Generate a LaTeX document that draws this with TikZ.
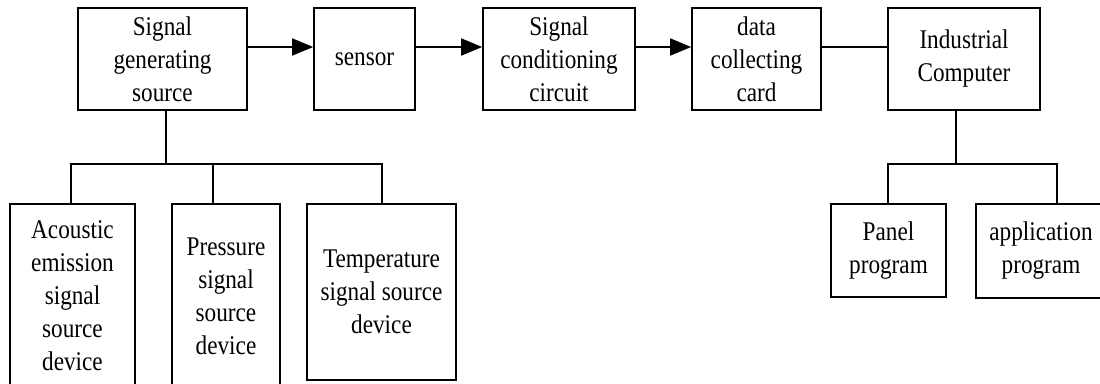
\documentclass[tikz,border=0pt]{standalone}
\usepackage{fontspec}
\setmainfont{Liberation Serif}[FakeStretch=0.86]
\usetikzlibrary{arrows.meta}
\begin{document}
\begin{tikzpicture}[x=1pt,y=-1pt,
  box/.style={draw,line width=1.6pt,inner sep=0pt,align=center,
    font=\fontsize{27}{33}\selectfont},
  link/.style={line width=1.6pt},
  flow/.style={link,-{Triangle[length=21pt,width=17pt]}}]
\useasboundingbox (0,0) rectangle (1100,383);
\clip (0,0) rectangle (1100,383);

% main signal chain
\node[box,minimum width=169pt,minimum height=102pt] (src) at (162.5,59) {Signal\\generating\\source};
\node[box,minimum width=101pt,minimum height=102pt] (sensor) at (364.5,59) {sensor};
\node[box,minimum width=152pt,minimum height=102pt] (cond) at (559,59) {Signal\\conditioning\\circuit};
\node[box,minimum width=129pt,minimum height=102pt] (daq) at (756.5,59) {data\\collecting\\card};
\node[box,minimum width=152pt,minimum height=102pt] (pc) at (964,59) {Industrial\\Computer};

% signal source devices
\node[box,minimum width=125pt,minimum height=184pt] (ae) at (72.5,296) {Acoustic\\emission\\signal\\source\\device};
\node[box,minimum width=108pt,minimum height=184pt] (pr) at (226,296) {Pressure\\signal\\source\\device};
\node[box,minimum width=149pt,minimum height=176pt] (tp) at (381.5,292) {Temperature\\signal source\\device};

% computer programs
\node[box,minimum width=115pt,minimum height=93pt] (panel) at (888.5,250.5) {Panel\\program};
\node[box,minimum width=130pt,minimum height=94pt] (app) at (1041,251) {application\\program};

% connectors along the chain
\coordinate (row) at (0,47);
\draw[flow] (src.east |- row) -- (sensor.west |- row);
\draw[flow] (sensor.east |- row) -- (cond.west |- row);
\draw[flow] (cond.east |- row) -- (daq.west |- row);
\draw[link] (daq.east |- row) -- (pc.west |- row);

% tree under the signal source
\coordinate (srcfork) at (166,164);
\coordinate (d1) at (71,164);
\coordinate (d2) at (213,164);
\coordinate (d3) at (382,164);
\draw[link] (srcfork |- src.south) -- (srcfork);
\draw[link] (d1 |- ae.north) -- (d1) -- (d3) -- (d3 |- tp.north);
\draw[link] (d2) -- (d2 |- pr.north);

% tree under the computer
\coordinate (pcfork) at (956,164);
\coordinate (p1) at (888,164);
\coordinate (p2) at (1057,164);
\draw[link] (pcfork |- pc.south) -- (pcfork);
\draw[link] (p1 |- panel.north) -- (p1) -- (p2) -- (p2 |- app.north);
\end{tikzpicture}
\end{document}
